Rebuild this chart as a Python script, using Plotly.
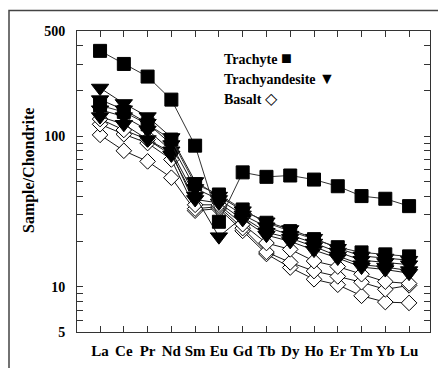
import math
import plotly.graph_objects as go

elements = ["La", "Ce", "Pr", "Nd", "Sm", "Eu", "Gd", "Tb", "Dy", "Ho", "Er", "Tm", "Yb", "Lu"]

trachyte_1 = [369, 302, 249, 175, 86.5, 27, 57.5, 53.7, 54.8, 51.5, 46.5, 40, 38.4, 34.3]
trachyte_2 = [160, 145, 120, 95, 48, 41, 32.6, 26.6, 23.4, 20.7, 18.3, 16.9, 16.4, 15.9]

trachyandesite_1 = [209, 165, 135, 98, 50, 40, 32, 27, 24, 21, 18, 16, 15.5, 15]
trachyandesite_2 = [175, 150, 122, 88, 45, 38, 30, 25, 22, 19.5, 17, 15, 14.5, 14]
trachyandesite_3 = [150, 135, 110, 80, 40, 21.5, 29, 23, 21, 18.5, 16, 14, 13.5, 12.8]
trachyandesite_4 = [135, 120, 95, 75, 38, 36, 28, 22, 20, 17.5, 15.5, 13.5, 13, 12.3]

basalt_1 = [102, 80, 68, 53, 32, 33, 23.5, 16.5, 13.4, 11.2, 10.3, 8.7, 7.9, 7.8]
basalt_2 = [120, 103, 90, 70, 33, 34, 24.5, 17, 14.5, 12.7, 11.7, 10.7, 9.6, 10.2]
basalt_3 = [130, 110, 95, 78, 35, 35, 26, 19.5, 17.7, 14.8, 13.6, 12.1, 10.8, 10.5]

y_major = [5, 10, 100, 500]
y_minor = [6, 7, 8, 9, 20, 30, 40, 50, 60, 70, 80, 90, 200, 300, 400]

FONT = "Times New Roman, Liberation Serif, serif"

fig = go.Figure()

def add(vals, symbol, size, fill, line_color="#1a1a1a"):
    fig.add_trace(go.Scatter(
        x=elements, y=vals, mode="lines+markers",
        line=dict(color=line_color, width=1),
        marker=dict(symbol=symbol, size=size, color=fill,
                    line=dict(color="black", width=1)),
        showlegend=False, hoverinfo="skip"))

for s in [basalt_1, basalt_2, basalt_3]:
    add(s, "diamond", 12, "white")
for s in [trachyandesite_4, trachyandesite_3, trachyandesite_2, trachyandesite_1]:
    add(s, "triangle-down", 15, "black")
for s in [trachyte_2, trachyte_1]:
    add(s, "square", 13, "black", "#333333")

tickvals = sorted(y_major + y_minor)
ticktext = [f"<b>{v}</b>" if v in y_major else "" for v in tickvals]

fig.update_layout(
    width=438, height=368,
    margin=dict(l=77, r=8, t=31, b=36),
    paper_bgcolor="white", plot_bgcolor="white",
    font=dict(family=FONT, color="black"),
    xaxis=dict(
        type="category", range=[-0.97, 13.88],
        tickvals=elements, ticktext=[f"<b>{e}</b>" for e in elements],
        ticks="inside", ticklen=6, tickcolor="#333", tickwidth=1,
        showline=True, linecolor="#333", linewidth=1, mirror="ticks",
        showgrid=False, zeroline=False,
        tickfont=dict(family=FONT, size=15, color="black"),
        ticklabelstandoff=5,
    ),
    yaxis=dict(
        type="log", range=[math.log10(5), math.log10(500)],
        tickvals=tickvals, ticktext=ticktext,
        ticks="inside", ticklen=6, tickcolor="#333", tickwidth=1,
        showline=True, linecolor="#333", linewidth=1, mirror="ticks",
        showgrid=False, zeroline=False,
        tickfont=dict(family=FONT, size=14, color="black"),
        ticklabelstandoff=8,
    ),
)

# outer frame
fig.add_shape(type="rect", xref="paper", yref="paper",
              x0=(9 - 77) / 353, x1=(445 - 77) / 353,
              y0=(332 - 375) / 301, y1=(332 - 10.5) / 301,
              line=dict(color="#444", width=1.5), layer="below")

def px_x(p):
    return (p - 77) / 353

def px_y(p):
    return (332 - p) / 301

fig.add_annotation(text="<b>Sample/Chondrite</b>", textangle=-90,
                   xref="paper", yref="paper", x=px_x(18), y=px_y(171),
                   showarrow=False, font=dict(family=FONT, size=16, color="black"))

legend_items = [("Trachyte", "\u25A0", 58, 18), ("Trachyandesite", "\u25BC", 78, 16), ("Basalt", "\u25C7", 98, 16)]
for name, glyph, yy, gs in legend_items:
    fig.add_annotation(text=f"<b>{name}</b> <span style='font-size:{gs}px'>{glyph}</span>",
                       xref="paper", yref="paper", x=px_x(222), y=px_y(yy),
                       xanchor="left", yanchor="middle", showarrow=False,
                       font=dict(family=FONT, size=14, color="black"))

fig.write_html("out.html")
